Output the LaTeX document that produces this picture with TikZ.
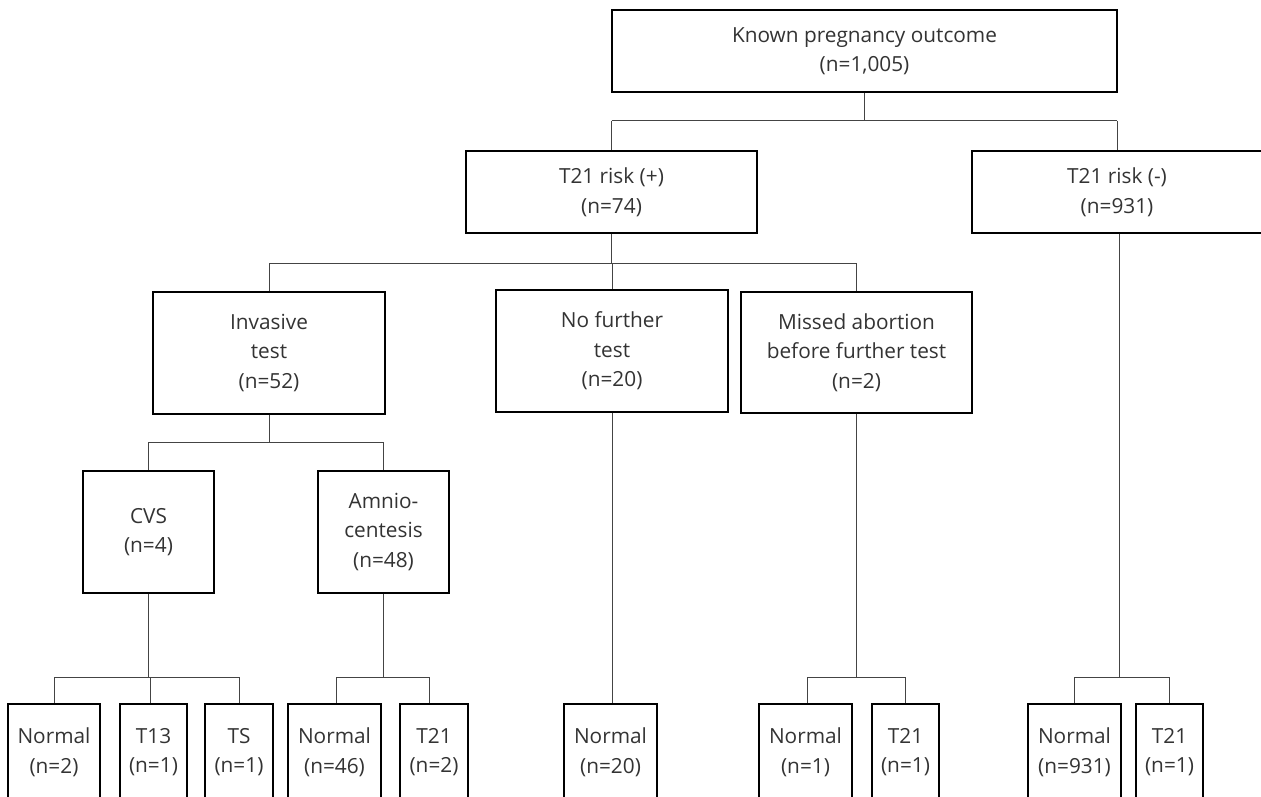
\documentclass[tikz,border=0pt]{standalone}
\usepackage{fontspec}
\setmainfont{Open Sans}
\definecolor{txt}{HTML}{333333}
\definecolor{ln}{HTML}{444444}
\begin{document}
\begin{tikzpicture}[x=1pt,y=-1pt,
  box/.style={draw=black, line width=1.3pt, inner sep=0pt, align=center,
    text=txt, font=\fontsize{20.8}{29.5}\selectfont},
  conn/.style={draw=ln, line width=1pt}]
\useasboundingbox (0,0) rectangle (1261,797);
\clip (0,0) rectangle (1261,797);
% level 0
\node[box, minimum width=505pt, minimum height=82pt] (top) at (864.5,51) {Known pregnancy outcome\\(n=1,005)};
% level 1
\node[box, minimum width=291pt, minimum height=82pt] (pos) at (611.5,192) {T21 risk (+)\\(n=74)};
\node[box, minimum width=290pt, minimum height=82pt] (neg) at (1117,192) {T21 risk (-)\\(n=931)};
% level 2
\node[box, minimum width=232pt, minimum height=122pt] (inv) at (269,353) {Invasive\\test\\(n=52)};
\node[box, minimum width=232pt, minimum height=122pt] (nof) at (612,351) {No further\\test\\(n=20)};
\node[box, minimum width=231pt, minimum height=121pt] (mis) at (856.5,352.5) {Missed abortion\\before further test\\(n=2)};
% level 3
\node[box, minimum width=131pt, minimum height=122pt] (cvs) at (148.5,532) {CVS\\(n=4)};
\node[box, minimum width=131pt, minimum height=122pt] (amn) at (383.5,532) {Amnio-\\centesis\\(n=48)};
% level 4
\node[box, minimum width=92pt, minimum height=96pt] (n1) at (54,752) {Normal\\(n=2)};
\node[box, minimum width=67pt, minimum height=96pt] (t13) at (153.5,752) {T13\\(n=1)};
\node[box, minimum width=68pt, minimum height=96pt] (ts) at (239,752) {TS\\(n=1)};
\node[box, minimum width=93pt, minimum height=96pt] (n46) at (334.5,752) {Normal\\(n=46)};
\node[box, minimum width=68pt, minimum height=96pt] (t21a) at (434,752) {T21\\(n=2)};
\node[box, minimum width=93pt, minimum height=96pt] (n20) at (610.5,752) {Normal\\(n=20)};
\node[box, minimum width=93pt, minimum height=96pt] (n1b) at (805.5,752) {Normal\\(n=1)};
\node[box, minimum width=67pt, minimum height=96pt] (t21b) at (905.5,752) {T21\\(n=1)};
\node[box, minimum width=93pt, minimum height=96pt] (n931) at (1074.5,752) {Normal\\(n=931)};
\node[box, minimum width=67pt, minimum height=96pt] (t21c) at (1169.5,752) {T21\\(n=1)};
% bar coordinates
\coordinate (y1) at (0,121);
\coordinate (y2) at (0,263);
\coordinate (y3) at (0,442);
\coordinate (y4) at (0,677);
% top -> pos, neg
\path[conn] (top.south) -- (top.south |- y1);
\path[conn] (pos.north |- y1) -- (neg.north |- y1);
\path[conn] (pos.north |- y1) -- (pos.north);
\path[conn] (neg.north |- y1) -- (neg.north);
% pos -> inv, nof, mis
\path[conn] (pos.south) -- (pos.south |- y2);
\path[conn] (inv.north |- y2) -- (mis.north |- y2);
\path[conn] (inv.north |- y2) -- (inv.north);
\path[conn] (nof.north |- y2) -- (nof.north);
\path[conn] (mis.north |- y2) -- (mis.north);
% inv -> cvs, amn
\path[conn] (inv.south) -- (inv.south |- y3);
\path[conn] (cvs.north |- y3) -- (amn.north |- y3);
\path[conn] (cvs.north |- y3) -- (cvs.north);
\path[conn] (amn.north |- y3) -- (amn.north);
% cvs -> n1, t13, ts
\path[conn] (cvs.south) -- (cvs.south |- y4);
\path[conn] (n1.north |- y4) -- (ts.north |- y4);
\path[conn] (n1.north |- y4) -- (n1.north);
\path[conn] ([xshift=-3pt]t13.north |- y4) -- ([xshift=-3pt]t13.north);
\path[conn] (ts.north |- y4) -- (ts.north);
% amn -> n46, t21a
\path[conn] (amn.south) -- (amn.south |- y4);
\path[conn] ([xshift=1.5pt]n46.north |- y4) -- ([xshift=-5pt]t21a.north |- y4);
\path[conn] ([xshift=1.5pt]n46.north |- y4) -- ([xshift=1.5pt]n46.north);
\path[conn] ([xshift=-5pt]t21a.north |- y4) -- ([xshift=-5pt]t21a.north);
% nof -> n20
\path[conn] (nof.south) -- (nof.south |- n20.north);
% mis -> n1b, t21b
\path[conn] (mis.south) -- (mis.south |- y4);
\path[conn] ([xshift=1.5pt]n1b.north |- y4) -- (t21b.north |- y4);
\path[conn] ([xshift=1.5pt]n1b.north |- y4) -- ([xshift=1.5pt]n1b.north);
\path[conn] (t21b.north |- y4) -- (t21b.north);
% neg -> n931, t21c
\path[conn] ([xshift=2pt]neg.south) -- ([xshift=2pt]neg.south |- y4);
\path[conn] (n931.north |- y4) -- (t21c.north |- y4);
\path[conn] (n931.north |- y4) -- (n931.north);
\path[conn] (t21c.north |- y4) -- (t21c.north);
\end{tikzpicture}
\end{document}
